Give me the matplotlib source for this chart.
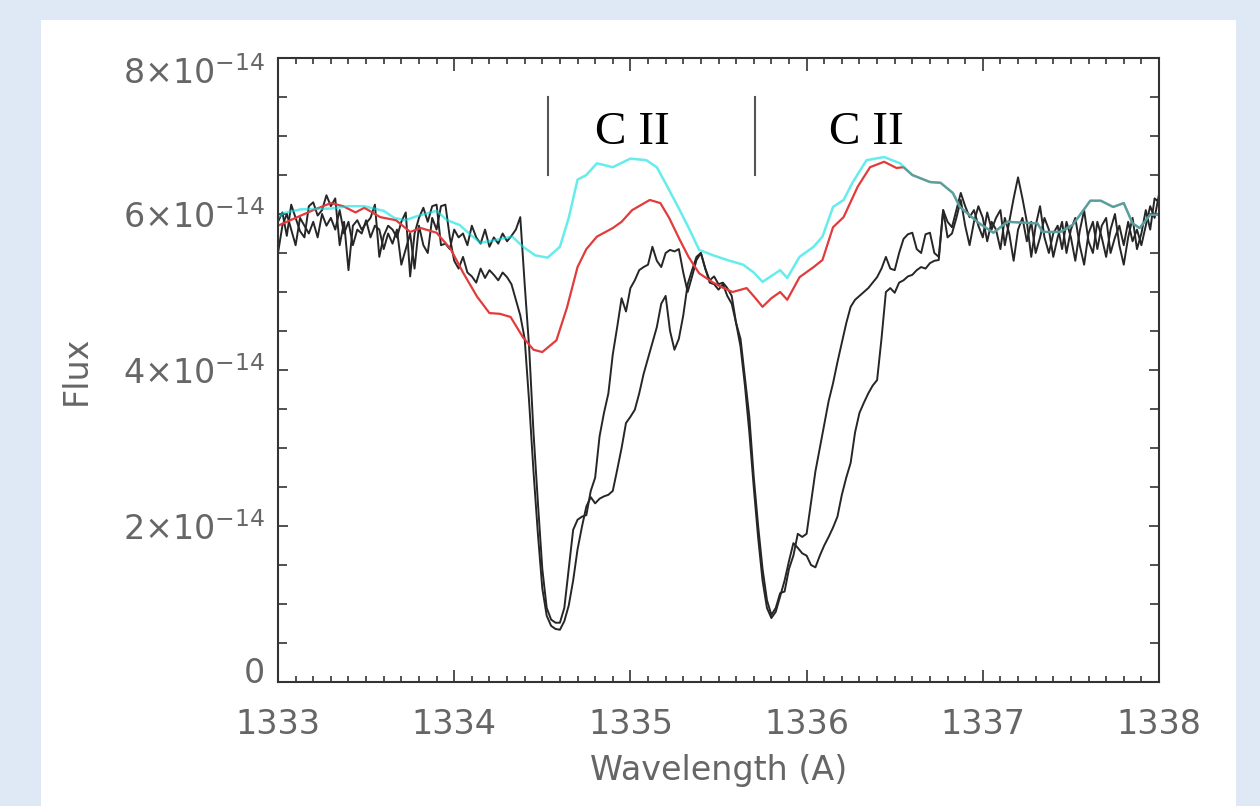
import numpy as np
import matplotlib.pyplot as plt
import matplotlib.transforms as mtransforms
from matplotlib.patches import Rectangle
from matplotlib.ticker import MultipleLocator

plt.rcParams['font.family'] = ['DejaVu Sans']
plt.rcParams['mathtext.default'] = 'regular'

# --- data (flux in units of 1e-14) ---
# two observed spectra, sampled every 0.025 A from 1333 to 1338
FLUX_A = [
    5.90, 6.02, 5.72, 6.12, 5.95, 5.78, 5.70, 6.10, 6.15, 5.98,
    6.05, 6.24, 6.10, 6.20, 5.60, 5.90, 5.28, 5.85, 5.92, 5.80,
    5.88, 5.95, 6.12, 5.45, 5.72, 5.85, 5.80, 5.70, 5.90, 6.02,
    5.20, 5.75, 5.95, 6.08, 5.90, 6.10, 6.12, 5.60, 5.62, 5.55,
    5.80, 5.70, 5.75, 5.60, 5.85, 5.70, 5.62, 5.80, 5.58, 5.70,
    5.62, 5.75, 5.65, 5.72, 5.80, 5.96, 5.10, 4.30, 3.20, 2.30,
    1.45, 0.95, 0.80, 0.76, 0.76, 0.95, 1.45, 1.95, 2.08, 2.12,
    2.14, 2.45, 2.62, 3.15, 3.45, 3.70, 4.20, 4.55, 4.92, 4.75,
    5.05, 5.15, 5.28, 5.32, 5.35, 5.58, 5.40, 5.32, 5.50, 5.54,
    5.52, 5.55, 5.25, 5.00, 5.20, 5.41, 5.50, 5.30, 5.15, 5.20,
    5.10, 5.12, 5.05, 4.95, 4.60, 4.40, 3.90, 3.40, 2.63, 2.00,
    1.45, 1.05, 0.86, 0.95, 1.14, 1.16, 1.45, 1.62, 1.90, 1.86,
    1.90, 2.30, 2.70, 3.00, 3.30, 3.60, 3.83, 4.10, 4.35, 4.60,
    4.81, 4.90, 4.95, 5.00, 5.05, 5.12, 5.19, 5.30, 5.45, 5.30,
    5.28, 5.50, 5.68, 5.74, 5.76, 5.55, 5.50, 5.74, 5.76, 5.50,
    5.45, 6.05, 5.90, 5.83, 6.05, 6.27, 6.10, 5.96, 6.05, 5.85,
    5.70, 6.02, 5.80, 5.95, 6.05, 5.60, 5.90, 6.20, 6.47, 6.20,
    5.90, 5.45, 5.85, 6.10, 5.70, 5.50, 5.75, 5.85, 5.55, 5.90,
    5.70, 5.40, 5.78, 6.05, 5.65, 5.50, 5.90, 5.70, 5.45, 5.80,
    6.00, 5.60, 5.35, 5.70, 5.95, 5.55, 5.75, 6.05, 5.80, 6.20,
    6.15,
]
FLUX_B = [
    5.50, 5.85, 6.00, 5.80, 5.60, 5.95, 5.85, 5.75, 5.90, 5.70,
    6.00, 5.85, 5.95, 5.80, 6.05, 5.75, 5.90, 5.60, 5.80, 5.75,
    5.92, 5.70, 5.85, 5.80, 5.55, 5.75, 5.62, 5.80, 5.35, 5.55,
    5.75, 5.30, 5.85, 5.60, 5.50, 5.95, 5.80, 6.10, 6.12, 5.70,
    5.40, 5.30, 5.45, 5.25, 5.20, 5.12, 5.30, 5.18, 5.28, 5.22,
    5.15, 5.25, 5.19, 5.10, 4.90, 4.70, 4.40, 3.60, 2.70, 1.90,
    1.20, 0.85, 0.72, 0.68, 0.67, 0.78, 0.98, 1.30, 1.70, 1.99,
    2.25, 2.37, 2.29, 2.35, 2.38, 2.40, 2.45, 2.72, 3.00, 3.32,
    3.40, 3.49, 3.70, 3.95, 4.15, 4.35, 4.55, 4.85, 4.95, 4.50,
    4.26, 4.40, 4.70, 5.10, 5.28, 5.45, 5.50, 5.30, 5.12, 5.10,
    5.03, 5.10, 4.95, 4.85, 4.60, 4.30, 3.80, 3.20, 2.50, 1.85,
    1.30, 0.95, 0.82, 0.90, 1.10, 1.30, 1.55, 1.78, 1.72, 1.65,
    1.62, 1.50, 1.47, 1.62, 1.75, 1.86, 1.98, 2.12, 2.40, 2.62,
    2.81, 3.20, 3.45, 3.58, 3.70, 3.80, 3.87, 4.40, 5.00, 5.05,
    4.99, 5.12, 5.15, 5.20, 5.22, 5.28, 5.32, 5.30, 5.37, 5.40,
    5.41, 6.05, 5.70, 5.75, 5.95, 6.18, 5.85, 5.60, 5.90, 6.10,
    5.95, 5.65, 5.90, 5.80, 5.55, 5.95, 5.75, 5.40, 5.80, 5.95,
    5.65, 5.90, 5.50, 5.70, 5.95, 5.80, 5.45, 5.70, 5.90, 5.50,
    5.80, 5.95, 5.60, 5.35, 5.75, 5.90, 5.55, 5.85, 5.95, 5.50,
    5.70, 5.85, 5.60, 5.90, 5.65, 5.80, 5.60, 5.85, 6.10, 5.95,
    6.25,
]

# model profiles (wavelength, flux)
TAIL_WAVE = [1336.70, 1336.76, 1336.83, 1336.87, 1336.98, 1337.06, 1337.14,
             1337.31, 1337.34, 1337.44, 1337.51, 1337.61, 1337.67, 1337.74,
             1337.80, 1337.85, 1337.89, 1337.95, 1338.00]
TAIL_FLUX = [6.41, 6.40, 6.27, 6.09, 5.88, 5.76, 5.90, 5.88, 5.77, 5.77,
             5.86, 6.17, 6.17, 6.09, 6.14, 5.88, 5.82, 5.99, 5.99]

RED_WAVE = [1333.00, 1333.10, 1333.20, 1333.30, 1333.37, 1333.44, 1333.49,
            1333.58, 1333.67, 1333.75, 1333.81, 1333.90, 1333.98, 1334.05,
            1334.13, 1334.20, 1334.26, 1334.32, 1334.39, 1334.45, 1334.50,
            1334.58, 1334.64, 1334.70, 1334.75, 1334.81, 1334.90, 1334.95,
            1335.01, 1335.11, 1335.17, 1335.22, 1335.28, 1335.33, 1335.39,
            1335.47, 1335.52, 1335.58, 1335.66, 1335.71, 1335.75, 1335.80,
            1335.85, 1335.89, 1335.96, 1336.04, 1336.09, 1336.15, 1336.21,
            1336.29, 1336.36, 1336.44, 1336.51, 1336.55, 1336.60] + TAIL_WAVE
RED_FLUX = [5.85, 5.95, 6.05, 6.14, 6.10, 6.02, 6.08, 5.96, 5.92, 5.77,
            5.82, 5.76, 5.55, 5.25, 4.94, 4.73, 4.72, 4.68, 4.42, 4.26,
            4.23, 4.38, 4.80, 5.32, 5.55, 5.71, 5.82, 5.90, 6.05, 6.18,
            6.14, 5.95, 5.67, 5.45, 5.24, 5.12, 5.06, 5.00, 5.05, 4.92,
            4.81, 4.92, 5.00, 4.90, 5.19, 5.32, 5.41, 5.83, 5.96, 6.35,
            6.60, 6.67, 6.59, 6.60, 6.50] + TAIL_FLUX

CYAN_WAVE = [1333.00, 1333.03, 1333.13, 1333.30, 1333.40, 1333.49, 1333.60,
             1333.66, 1333.72, 1333.80, 1333.90, 1333.96, 1334.03, 1334.10,
             1334.15, 1334.22, 1334.33, 1334.39, 1334.46, 1334.53, 1334.60,
             1334.65, 1334.70, 1334.75, 1334.81, 1334.90, 1335.00, 1335.09,
             1335.15, 1335.21, 1335.28, 1335.34, 1335.39, 1335.47, 1335.55,
             1335.64, 1335.70, 1335.75, 1335.85, 1335.89, 1335.96, 1336.04,
             1336.09, 1336.15, 1336.21, 1336.26, 1336.34, 1336.44, 1336.53,
             1336.60] + TAIL_WAVE
CYAN_FLUX = [5.95, 6.01, 6.06, 6.07, 6.10, 6.10, 6.04, 5.95, 5.92, 5.98,
             6.04, 5.92, 5.86, 5.72, 5.63, 5.66, 5.71, 5.58, 5.47, 5.44,
             5.58, 5.95, 6.44, 6.50, 6.65, 6.60, 6.71, 6.69, 6.60, 6.35,
             6.05, 5.78, 5.54, 5.47, 5.41, 5.35, 5.25, 5.13, 5.28, 5.18,
             5.45, 5.58, 5.71, 6.09, 6.18, 6.40, 6.69, 6.73, 6.65, 6.50] + TAIL_FLUX

LINE_WAVES = [1334.532, 1335.708]
LINE_LABEL_POS = [1335.01, 1336.34]
LINE_LABEL = "C II"

Y_TICKS = [0, 2, 4, 6, 8]
Y_TICK_LABELS = ['0', '2×10$^{-14}$', '4×10$^{-14}$', '6×10$^{-14}$', '8×10$^{-14}$']
X_TICKS = [1333, 1334, 1335, 1336, 1337, 1338]

SCALE = 1e-14
TEXT_GREY = '#666666'

# --- figure ---
fig = plt.figure(figsize=(12.6, 8.06), dpi=100)
fig.patch.set_facecolor('#dfe9f6')
fig.add_artist(Rectangle((41 / 1260, 0), (1236 - 41) / 1260, (806 - 20) / 806,
                         transform=fig.transFigure, facecolor='white',
                         edgecolor='none', zorder=-5))

ax = fig.add_axes([278 / 1260, 124 / 806, 881 / 1260, 624 / 806])
ax.set_zorder(1)
ax.set_facecolor('white')

ax.plot(np.linspace(1333.0, 1338.0, len(FLUX_A)), np.array(FLUX_A) * SCALE,
        color='#262626', lw=1.4)
ax.plot(np.linspace(1333.0, 1338.0, len(FLUX_B)), np.array(FLUX_B) * SCALE,
        color='#262626', lw=1.4)
ax.plot(RED_WAVE, np.array(RED_FLUX) * SCALE, color='#e23b3b', lw=1.6)
ax.plot(CYAN_WAVE, np.array(CYAN_FLUX) * SCALE, color='#00e0e0', lw=1.8, alpha=0.6)

for w, xt in zip(LINE_WAVES, LINE_LABEL_POS):
    ax.plot([w, w], [6.5 * SCALE, 7.5 * SCALE], color='#555555', lw=1.5)
    ax.text(xt, 7.04 * SCALE, LINE_LABEL, ha='center', va='center',
            fontsize=34, family='Liberation Serif', color='black')

ax.set_xlim(1333, 1338)
ax.set_ylim(0, 8e-14)
ax.set_xticks(X_TICKS, [str(v) for v in X_TICKS])
ax.xaxis.set_minor_locator(MultipleLocator(0.1))
ax.set_yticks([v * SCALE for v in Y_TICKS], Y_TICK_LABELS)
ax.yaxis.set_minor_locator(MultipleLocator(0.5e-14))

ax.tick_params(which='both', direction='in', top=True, right=True,
               colors='#333333', labelcolor=TEXT_GREY, labelsize=24, width=1.2)
ax.tick_params(axis='x', which='major', length=9, pad=19)
ax.tick_params(axis='x', which='minor', length=4.5)
ax.tick_params(axis='y', which='major', length=7, pad=9)
ax.tick_params(axis='y', which='minor', length=6.5)
for s in ax.spines.values():
    s.set_color('#333333')
    s.set_linewidth(1.5)

# the end labels of the y axis sit a little inside the frame
ylabels = ax.get_yticklabels()
ylabels[0].set_transform(ylabels[0].get_transform() +
                         mtransforms.ScaledTranslation(0, 12 / 100, fig.dpi_scale_trans))
ylabels[-1].set_transform(ylabels[-1].get_transform() +
                          mtransforms.ScaledTranslation(0, -12 / 100, fig.dpi_scale_trans))

ax.set_xlabel('Wavelength (A)', fontsize=24, color=TEXT_GREY)
ax.set_ylabel('Flux', fontsize=24, color=TEXT_GREY)
ax.xaxis.set_label_coords(0.5, -0.115)
ax.yaxis.set_label_coords(-0.21, 0.5)

fig.savefig('out.png', dpi=100)
